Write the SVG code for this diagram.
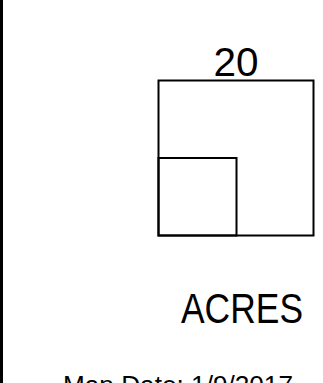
<svg xmlns="http://www.w3.org/2000/svg" width="323" height="383" viewBox="0 0 323 383">
<style>
.box{fill:none;stroke:#000;stroke-width:2}
.t{font-family:"Liberation Sans",Arial,sans-serif;fill:#000}
</style>
<rect width="323" height="383" fill="#fff"/>
<line x1="1.5" y1="0" x2="1.5" y2="383" stroke="#000" stroke-width="3"/>
<g id="outer-square"><rect class="box" x="158.5" y="80.5" width="155" height="155"/></g>
<g id="inner-square"><rect class="box" x="158.5" y="158" width="78" height="77.5"/></g>
<g id="label-20"><text class="t" x="236" y="76" font-size="40" text-anchor="middle" textLength="45" lengthAdjust="spacingAndGlyphs">20</text></g>
<g id="label-acres"><text class="t" x="181" y="323" font-size="42" textLength="122" lengthAdjust="spacingAndGlyphs">ACRES</text></g>
<g id="map-date"><text class="t" x="63" y="394" font-size="26" textLength="230" lengthAdjust="spacingAndGlyphs">Map Date: 1/9/2017</text></g>
</svg>
